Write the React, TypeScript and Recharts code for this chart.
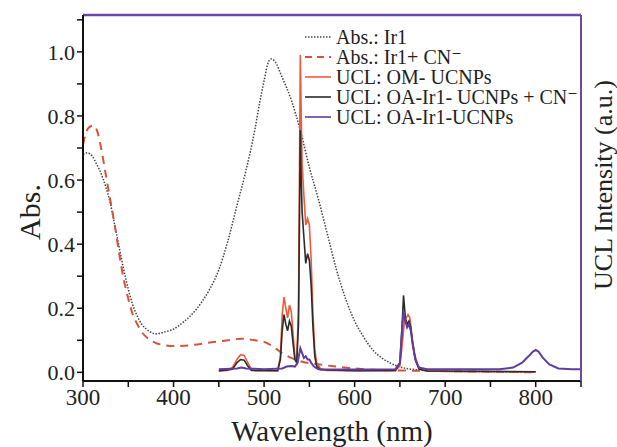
import { LineChart, Line, XAxis, YAxis, ReferenceLine } from "recharts";

type Pt = { x: number; y: number };
const pts = (rows: number[][]): Pt[] => rows.map(([x, y]) => ({ x, y }));

// absorption spectra (Abs.)
const absIr1 = pts([
  [300, 0.68], [305, 0.685], [310, 0.675], [315, 0.65], [320, 0.62], [325, 0.58],
  [330, 0.53], [335, 0.46], [340, 0.39], [345, 0.32], [350, 0.26], [355, 0.21],
  [360, 0.175], [365, 0.15], [370, 0.135], [375, 0.125], [380, 0.12], [385, 0.122],
  [390, 0.126], [400, 0.135], [410, 0.155], [420, 0.18], [430, 0.215], [440, 0.26],
  [450, 0.32], [460, 0.41], [470, 0.52], [480, 0.63], [490, 0.76], [495, 0.84],
  [500, 0.91], [505, 0.97], [508, 0.978], [512, 0.97], [520, 0.92], [530, 0.85],
  [540, 0.755], [550, 0.64], [560, 0.54], [570, 0.43], [580, 0.32], [590, 0.23],
  [600, 0.16], [610, 0.11], [620, 0.07], [630, 0.045], [640, 0.028], [650, 0.017],
  [660, 0.011], [680, 0.006], [700, 0.004], [750, 0.002], [800, 0.0],
]);

const absIr1CN = pts([
  [300, 0.71], [303, 0.745], [307, 0.765], [312, 0.77], [316, 0.75], [320, 0.7],
  [325, 0.62], [330, 0.54], [335, 0.46], [340, 0.37], [345, 0.29], [350, 0.23],
  [355, 0.18], [360, 0.15], [365, 0.125], [370, 0.11], [380, 0.092], [390, 0.085],
  [400, 0.082], [420, 0.085], [440, 0.093], [460, 0.1], [475, 0.105], [490, 0.1],
  [500, 0.095], [510, 0.08], [520, 0.06], [530, 0.045], [540, 0.035], [560, 0.025],
  [580, 0.018], [600, 0.012], [620, 0.008], [650, 0.006], [700, 0.004], [800, 0.0],
]);

// upconversion luminescence spectra (UCL)
const uclOM = pts([
  [450, 0.005], [460, 0.006], [465, 0.015], [470, 0.04], [474, 0.055], [478, 0.053],
  [482, 0.03], [486, 0.01], [490, 0.005], [515, 0.005], [518, 0.05], [520, 0.18],
  [522, 0.235], [524, 0.2], [526, 0.17], [528, 0.21], [530, 0.19], [532, 0.12],
  [534, 0.05], [536, 0.035], [538, 0.2], [539, 0.6], [540, 0.99], [541, 0.8],
  [542, 0.65], [544, 0.55], [546, 0.46], [548, 0.48], [550, 0.46], [552, 0.35],
  [554, 0.18], [556, 0.07], [558, 0.03], [562, 0.012], [570, 0.006], [600, 0.005],
  [645, 0.005], [650, 0.02], [653, 0.1], [655, 0.16], [657, 0.17], [659, 0.18],
  [661, 0.17], [663, 0.12], [666, 0.06], [670, 0.02], [675, 0.006], [700, 0.003],
  [750, 0.002], [800, 0.002],
]);

const uclIr1CN = pts([
  [450, 0.004], [465, 0.01], [470, 0.03], [474, 0.04], [478, 0.038], [482, 0.02],
  [486, 0.006], [515, 0.005], [518, 0.04], [520, 0.13], [522, 0.18], [524, 0.15],
  [526, 0.13], [528, 0.16], [530, 0.145], [532, 0.09], [534, 0.04], [536, 0.03],
  [538, 0.15], [539, 0.45], [540, 0.755], [541, 0.6], [542, 0.5], [544, 0.42],
  [546, 0.34], [548, 0.37], [550, 0.35], [552, 0.27], [554, 0.14], [556, 0.05],
  [558, 0.02], [562, 0.008], [600, 0.005], [645, 0.006], [650, 0.03], [652, 0.12],
  [654, 0.24], [656, 0.17], [658, 0.15], [660, 0.16], [662, 0.14], [664, 0.09],
  [667, 0.04], [671, 0.01], [680, 0.004], [800, 0.002],
]);

const uclIr1 = pts([
  [450, 0.01], [470, 0.012], [475, 0.015], [480, 0.012], [500, 0.01], [520, 0.012],
  [525, 0.018], [530, 0.02], [534, 0.018], [537, 0.03], [539, 0.06], [540, 0.075],
  [542, 0.06], [544, 0.045], [546, 0.05], [548, 0.04], [550, 0.04], [552, 0.03],
  [555, 0.018], [560, 0.01], [600, 0.009], [645, 0.01], [650, 0.03], [652, 0.12],
  [654, 0.19], [656, 0.16], [658, 0.14], [660, 0.15], [662, 0.13], [664, 0.09],
  [667, 0.04], [671, 0.015], [680, 0.01], [760, 0.01], [775, 0.015], [785, 0.03],
  [792, 0.05], [797, 0.065], [800, 0.07], [803, 0.065], [808, 0.045], [815, 0.025],
  [825, 0.012], [840, 0.01], [850, 0.01],
]);

const xTicks = [300, 350, 400, 450, 500, 550, 600, 650, 700, 750, 800, 850];
const yTicks = [0, 0.1, 0.2, 0.3, 0.4, 0.5, 0.6, 0.7, 0.8, 0.9, 1.0, 1.1];
const Y_MIN = -0.027;
const Y_MAX = 1.115;

const FONT = "'Liberation Serif', 'DejaVu Serif', serif";
const PURPLE = "#6a4aa8";

const legendItems = [
  { label: "Abs.: Ir1", color: "#444", dash: "1.5 1.5", width: 1.5 },
  { label: "Abs.: Ir1+ CN\u207B", color: "#d4543a", dash: "7 5", width: 2 },
  { label: "UCL: OM- UCNPs", color: "#ee5a3c", dash: "", width: 1.6 },
  { label: "UCL: OA-Ir1- UCNPs + CN\u207B", color: "#2b2b2b", dash: "", width: 1.6 },
  { label: "UCL: OA-Ir1-UCNPs", color: "#5e3ea1", dash: "", width: 1.6 },
];

function LegendBox() {
  return (
    <div style={{ position: "absolute", left: 303, top: 27, fontFamily: FONT, fontSize: 20, lineHeight: "20px", color: "#222" }}>
      {legendItems.map((it) => (
        <div key={it.label} style={{ display: "flex", alignItems: "center", height: 20, whiteSpace: "nowrap" }}>
          <svg width={30} height={20} style={{ marginRight: 3 }}>
            <line x1={2} y1={10} x2={28} y2={10} stroke={it.color} strokeWidth={it.width} strokeDasharray={it.dash || undefined} />
          </svg>
          <span>{it.label}</span>
        </div>
      ))}
    </div>
  );
}

export default function App() {
  return (
    <div style={{ position: "absolute", left: 0, top: 0, width: 617, height: 447, background: "#fff" }}>
      <LineChart width={617} height={447} margin={{ top: 15, right: 0, bottom: 0, left: 0 }}>
        <XAxis
          dataKey="x"
          type="number"
          domain={[300, 850]}
          ticks={xTicks}
          tickFormatter={(v: number) => (v % 100 === 0 && v <= 800 ? String(v) : "")}
          allowDataOverflow
          height={66}
          axisLine={{ stroke: "#111", strokeWidth: 2 }}
          tickLine={{ stroke: "#111", strokeWidth: 1.5 }}
          tickSize={6}
          tick={{ fill: "#222", fontSize: 23, fontFamily: FONT }}
          label={{
            value: "Wavelength (nm)",
            content: () => (
              <text x={332} y={441} textAnchor="middle" fontFamily={FONT} fontSize={29} fill="#222">
                Wavelength (nm)
              </text>
            ),
          }}
        />
        <YAxis
          type="number"
          domain={[Y_MIN, Y_MAX]}
          ticks={yTicks}
          allowDataOverflow
          width={83}
          tickFormatter={(v: number) => (Math.round(v * 10) % 2 === 0 && v <= 1.0 ? v.toFixed(1) : "")}
          axisLine={{ stroke: "#111", strokeWidth: 2 }}
          tickLine={{ stroke: "#111", strokeWidth: 1.5 }}
          tickSize={6}
          tick={{ fill: "#222", fontSize: 22, fontFamily: FONT }}
          label={{
            value: "Abs.",
            content: () => (
              <text x={0} y={0} transform="translate(40,212) rotate(-90)" textAnchor="middle" fontFamily={FONT} fontSize={30} fill="#222">
                Abs.
              </text>
            ),
          }}
        />
        <YAxis
          yAxisId="right"
          orientation="right"
          domain={[0, 1]}
          width={36}
          tick={false}
          tickLine={false}
          axisLine={{ stroke: PURPLE, strokeWidth: 2 }}
          label={{
            value: "UCL Intensity (a.u.)",
            content: () => (
              <text x={0} y={0} transform="translate(612,185) rotate(-90)" textAnchor="middle" fontFamily={FONT} fontSize={26} fill="#222">
                UCL Intensity (a.u.)
              </text>
            ),
          }}
        />
        <ReferenceLine y={Y_MAX} stroke={PURPLE} strokeWidth={2.5} />
        <Line data={absIr1} dataKey="y" type="monotone" stroke="#444" strokeWidth={1.5} strokeDasharray="1.5 1.5" dot={false} isAnimationActive={false} />
        <Line data={absIr1CN} dataKey="y" type="monotone" stroke="#d4543a" strokeWidth={2} strokeDasharray="8 6" dot={false} isAnimationActive={false} />
        <Line data={uclOM} dataKey="y" type="linear" stroke="#ee5a3c" strokeWidth={1.6} dot={false} isAnimationActive={false} />
        <Line data={uclIr1CN} dataKey="y" type="linear" stroke="#2b2b2b" strokeWidth={1.6} dot={false} isAnimationActive={false} />
        <Line data={uclIr1} dataKey="y" type="linear" stroke="#5e3ea1" strokeWidth={2} dot={false} isAnimationActive={false} />
      </LineChart>
      <LegendBox />
    </div>
  );
}
